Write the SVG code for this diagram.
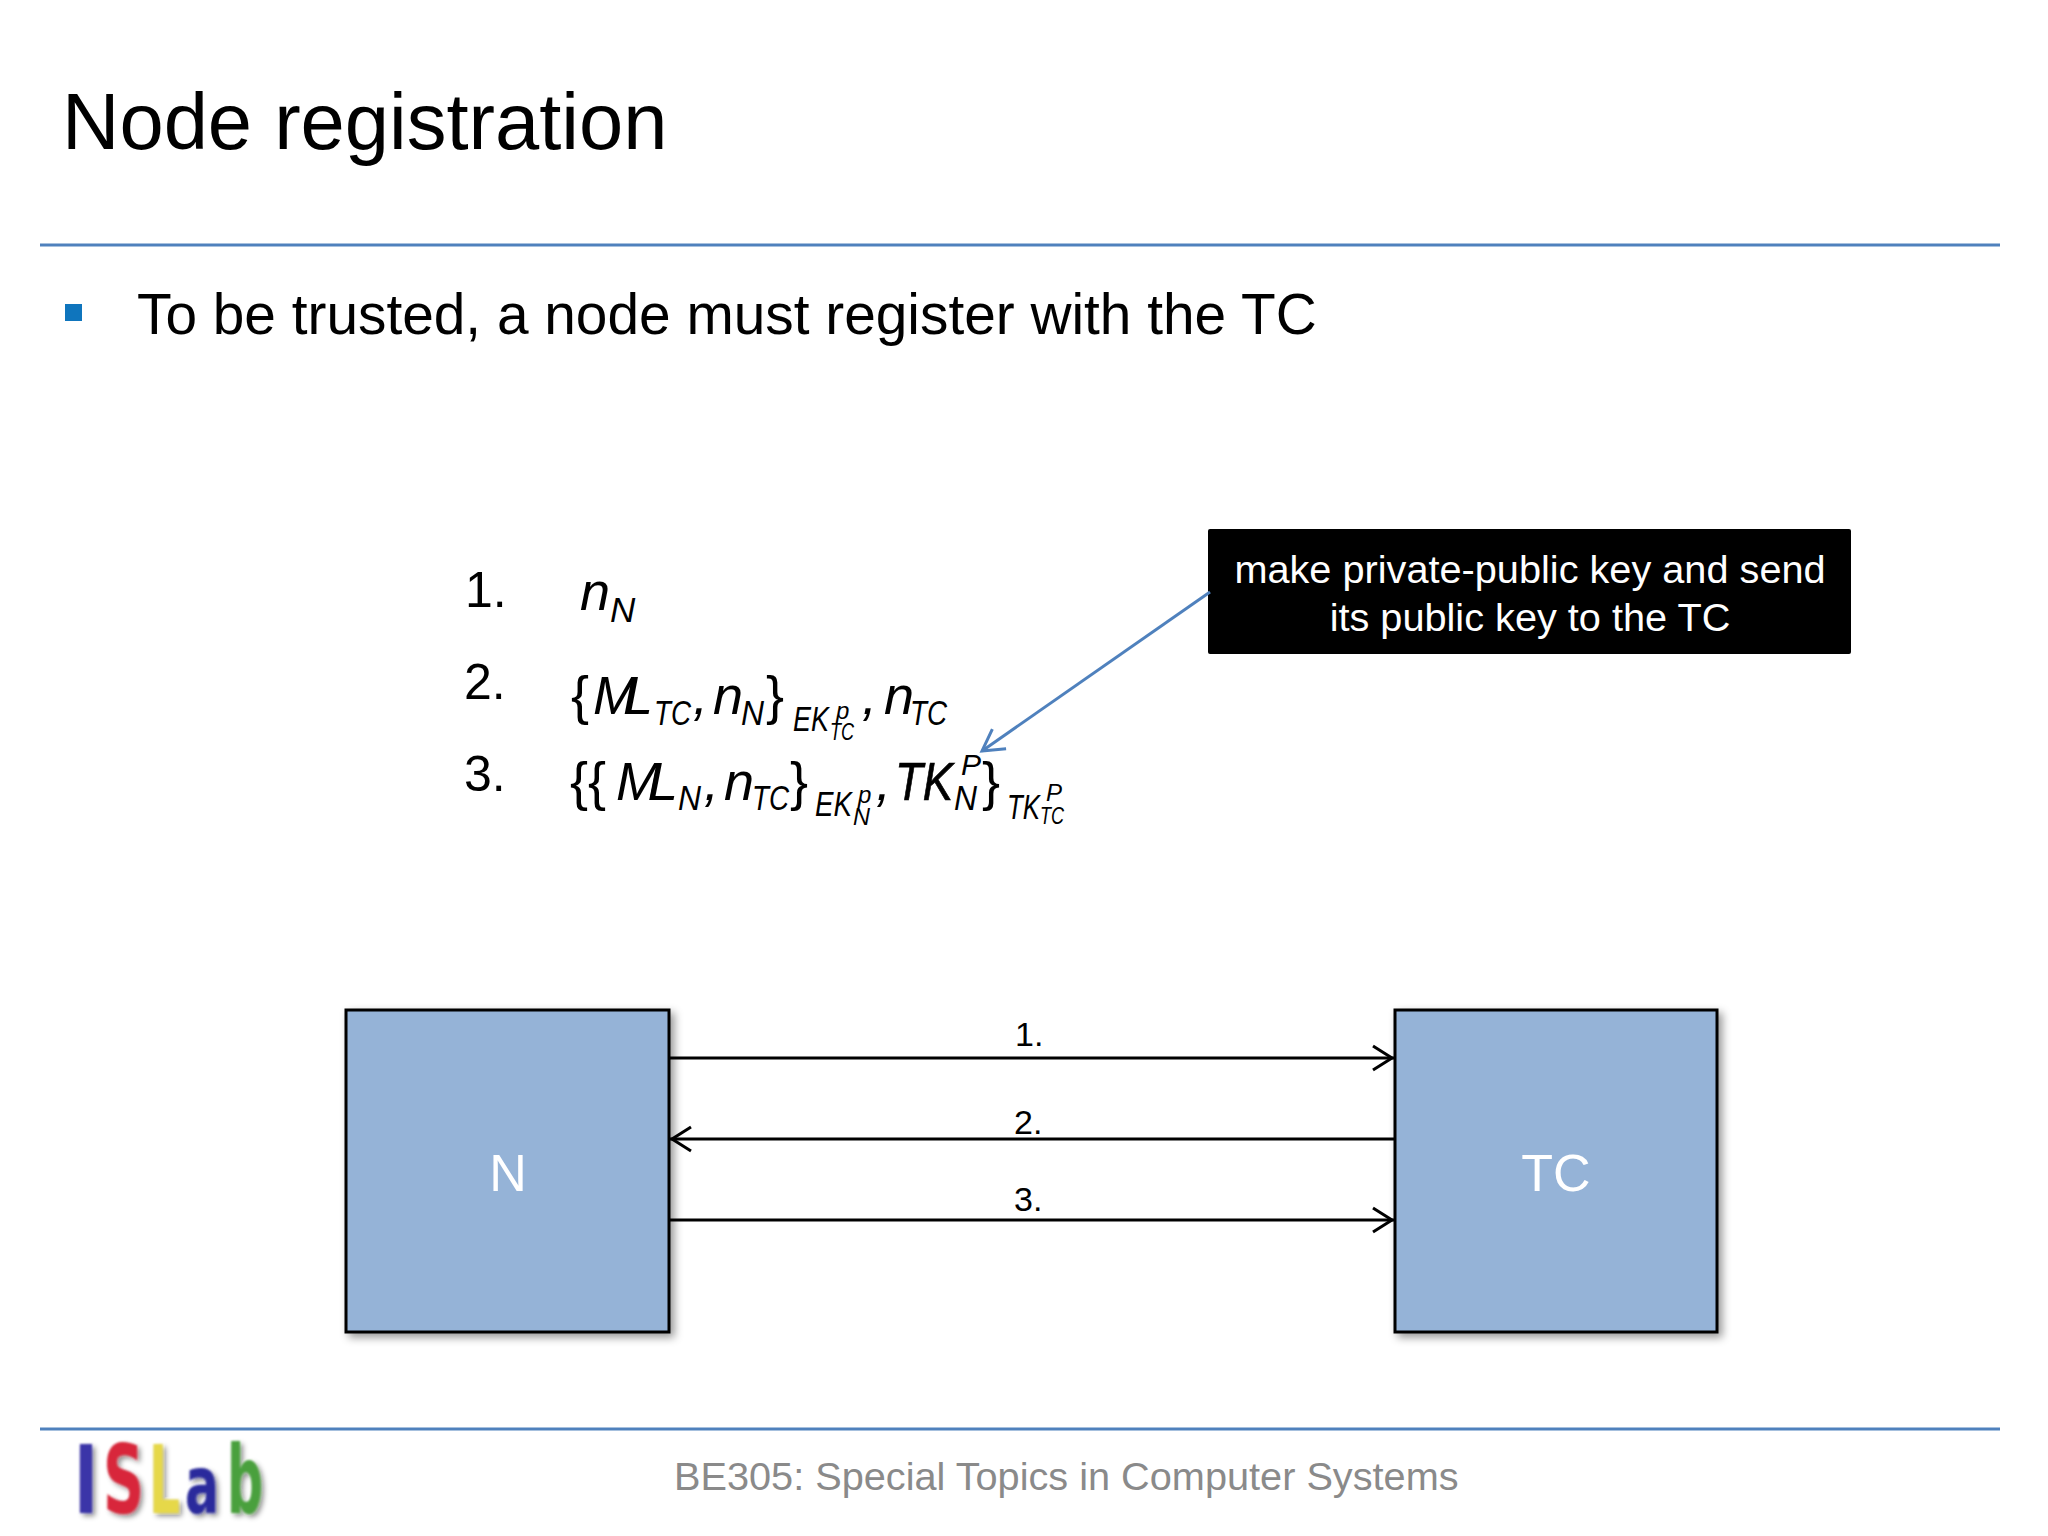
<svg xmlns="http://www.w3.org/2000/svg" width="2048" height="1536" viewBox="0 0 2048 1536">
<style>
text{font-family:"Liberation Sans",Arial,sans-serif;fill:#000}
.m{font-style:italic;font-size:54px}
.b{font-size:54px}
.s{font-style:italic;font-size:35px}
.t{font-style:italic;font-size:24px}
.n{font-size:50px}
.l{font-size:34px}
.box{fill:#95b3d7;stroke:#000;stroke-width:3;filter:url(#sh)}
.boxt{font-size:52px;fill:#fff;text-anchor:middle}
.c{stroke:#000;stroke-width:3;fill:none}
.rule{stroke:#4f81bd;stroke-width:3}
.logo{font-family:"DejaVu Sans",sans-serif;font-weight:bold;font-size:94px}
</style>
<defs>
<filter id="sh" x="-5%" y="-5%" width="112%" height="112%"><feDropShadow dx="4" dy="4" stdDeviation="4" flood-color="#000" flood-opacity=".4"/></filter>
<filter id="lg" x="-20%" y="-20%" width="150%" height="150%"><feGaussianBlur stdDeviation="0.9"/><feDropShadow dx="3" dy="3" stdDeviation="2.5" flood-color="#000" flood-opacity=".45"/></filter>
<marker id="a" viewBox="0 0 26 28" refX="23" refY="14" markerWidth="26" markerHeight="28" markerUnits="userSpaceOnUse" orient="auto"><path d="M2 2L21 14L2 26" fill="none" stroke="#000" stroke-width="3"/></marker>
<marker id="b" viewBox="0 0 28 30" refX="24" refY="15" markerWidth="28" markerHeight="30" markerUnits="userSpaceOnUse" orient="auto"><path d="M3 3L24 15L3 27" fill="none" stroke="#4f81bd" stroke-width="3"/></marker>
</defs>
<rect width="2048" height="1536" fill="#fff"/>
<text x="62" y="149" font-size="79.5">Node registration</text>
<line class="rule" x1="40" y1="245" x2="2000" y2="245"/>
<rect x="65" y="304" width="17" height="17" fill="#0f75bd"/>
<text x="137" y="334" font-size="56.8">To be trusted, a node must register with the TC</text>

<g id="steps">
<text class="n" x="465" y="607">1.</text>
<text class="m" x="580" y="610">n</text><text class="s" x="610" y="622">N</text>
<text class="n" x="464" y="699">2.</text>
<text class="b" x="571" y="714">{</text><text class="m" x="593" y="714" textLength="60">ML</text><text class="s" x="654" y="725" textLength="37" lengthAdjust="spacingAndGlyphs">TC</text><text class="m" x="693" y="714">,</text><text class="m" x="713" y="714">n</text><text class="s" x="741" y="725" textLength="23" lengthAdjust="spacingAndGlyphs">N</text><text class="b" x="766" y="714">}</text>
<text class="s" x="793" y="731" textLength="36" lengthAdjust="spacingAndGlyphs">EK</text><text class="t" x="836" y="719">p</text><text class="t" x="830" y="740" textLength="24" lengthAdjust="spacingAndGlyphs">TC</text>
<text class="m" x="862" y="714">,</text><text class="m" x="884" y="714">n</text><text class="s" x="910" y="725" textLength="37" lengthAdjust="spacingAndGlyphs">TC</text>
<text class="n" x="464" y="791">3.</text>
<text class="b" x="570" y="800">{{</text><text class="m" x="616" y="800" textLength="62">ML</text><text class="s" x="678" y="810" textLength="23" lengthAdjust="spacingAndGlyphs">N</text><text class="m" x="704" y="800">,</text><text class="m" x="724" y="800">n</text><text class="s" x="752" y="810" textLength="37" lengthAdjust="spacingAndGlyphs">TC</text><text class="b" x="790" y="800">}</text>
<text class="s" x="815" y="816" textLength="37" lengthAdjust="spacingAndGlyphs">EK</text><text class="t" x="858" y="803">p</text><text class="t" x="853" y="825" textLength="17" lengthAdjust="spacingAndGlyphs">N</text>
<text class="m" x="876" y="800">,</text><text class="m" x="895" y="800" textLength="58" lengthAdjust="spacingAndGlyphs" stroke="#000" stroke-width=".7">TK</text><text class="s" x="961" y="775" font-size="30" style="font-size:30px">P</text><text class="s" x="954" y="810" textLength="23" lengthAdjust="spacingAndGlyphs">N</text><text class="b" x="982" y="800">}</text>
<text class="s" x="1007" y="819" textLength="33" lengthAdjust="spacingAndGlyphs">TK</text><text class="t" x="1046" y="801">P</text><text class="t" x="1040" y="824" textLength="24" lengthAdjust="spacingAndGlyphs">TC</text>
</g>

<g id="callout">
<rect x="1208" y="529" width="643" height="125" rx="2" fill="#000"/>
<text x="1530" y="583" font-size="39.7" style="fill:#fff" text-anchor="middle">make private-public key and send</text>
<text x="1530" y="631" font-size="39.7" style="fill:#fff" text-anchor="middle">its public key to the TC</text>
</g>

<g id="node-n">
<rect class="box" x="346" y="1010" width="323" height="322"/>
<text class="boxt" x="508" y="1191">N</text>
</g>
<g id="node-tc">
<rect class="box" x="1395" y="1010" width="322" height="322"/>
<text class="boxt" x="1556" y="1191">TC</text>
</g>

<g id="connectors">
<line class="c" x1="669" y1="1058" x2="1394" y2="1058" marker-end="url(#a)"/>
<line class="c" x1="1395" y1="1139" x2="670" y2="1139" marker-end="url(#a)"/>
<line class="c" x1="669" y1="1220" x2="1394" y2="1220" marker-end="url(#a)"/>
<line x1="1210" y1="592" x2="982" y2="751" stroke="#4f81bd" stroke-width="3" marker-end="url(#b)"/>
<text class="l" x="1015" y="1046">1.</text>
<text class="l" x="1014" y="1134">2.</text>
<text class="l" x="1014" y="1211">3.</text>
</g>

<line class="rule" x1="40" y1="1429" x2="2000" y2="1429"/>
<g id="logo" filter="url(#lg)">
<text class="logo" x="74" y="1513" style="fill:#3a35a8" textLength="24" lengthAdjust="spacingAndGlyphs">I</text>
<text class="logo" x="103" y="1513" style="fill:#d8283a" textLength="41" lengthAdjust="spacingAndGlyphs">S</text>
<text class="logo" x="149" y="1513" style="fill:#e6d84a" textLength="31" lengthAdjust="spacingAndGlyphs">L</text>
<text class="logo" x="185" y="1513" style="fill:#2a2a9c;font-size:80px" textLength="34" lengthAdjust="spacingAndGlyphs">a</text>
<text class="logo" x="227" y="1513" style="fill:#4aa03c" textLength="36" lengthAdjust="spacingAndGlyphs">b</text>
</g>
<text x="674" y="1490" font-size="39.7" style="fill:#8a8a8a">BE305: Special Topics in Computer Systems</text>
</svg>
